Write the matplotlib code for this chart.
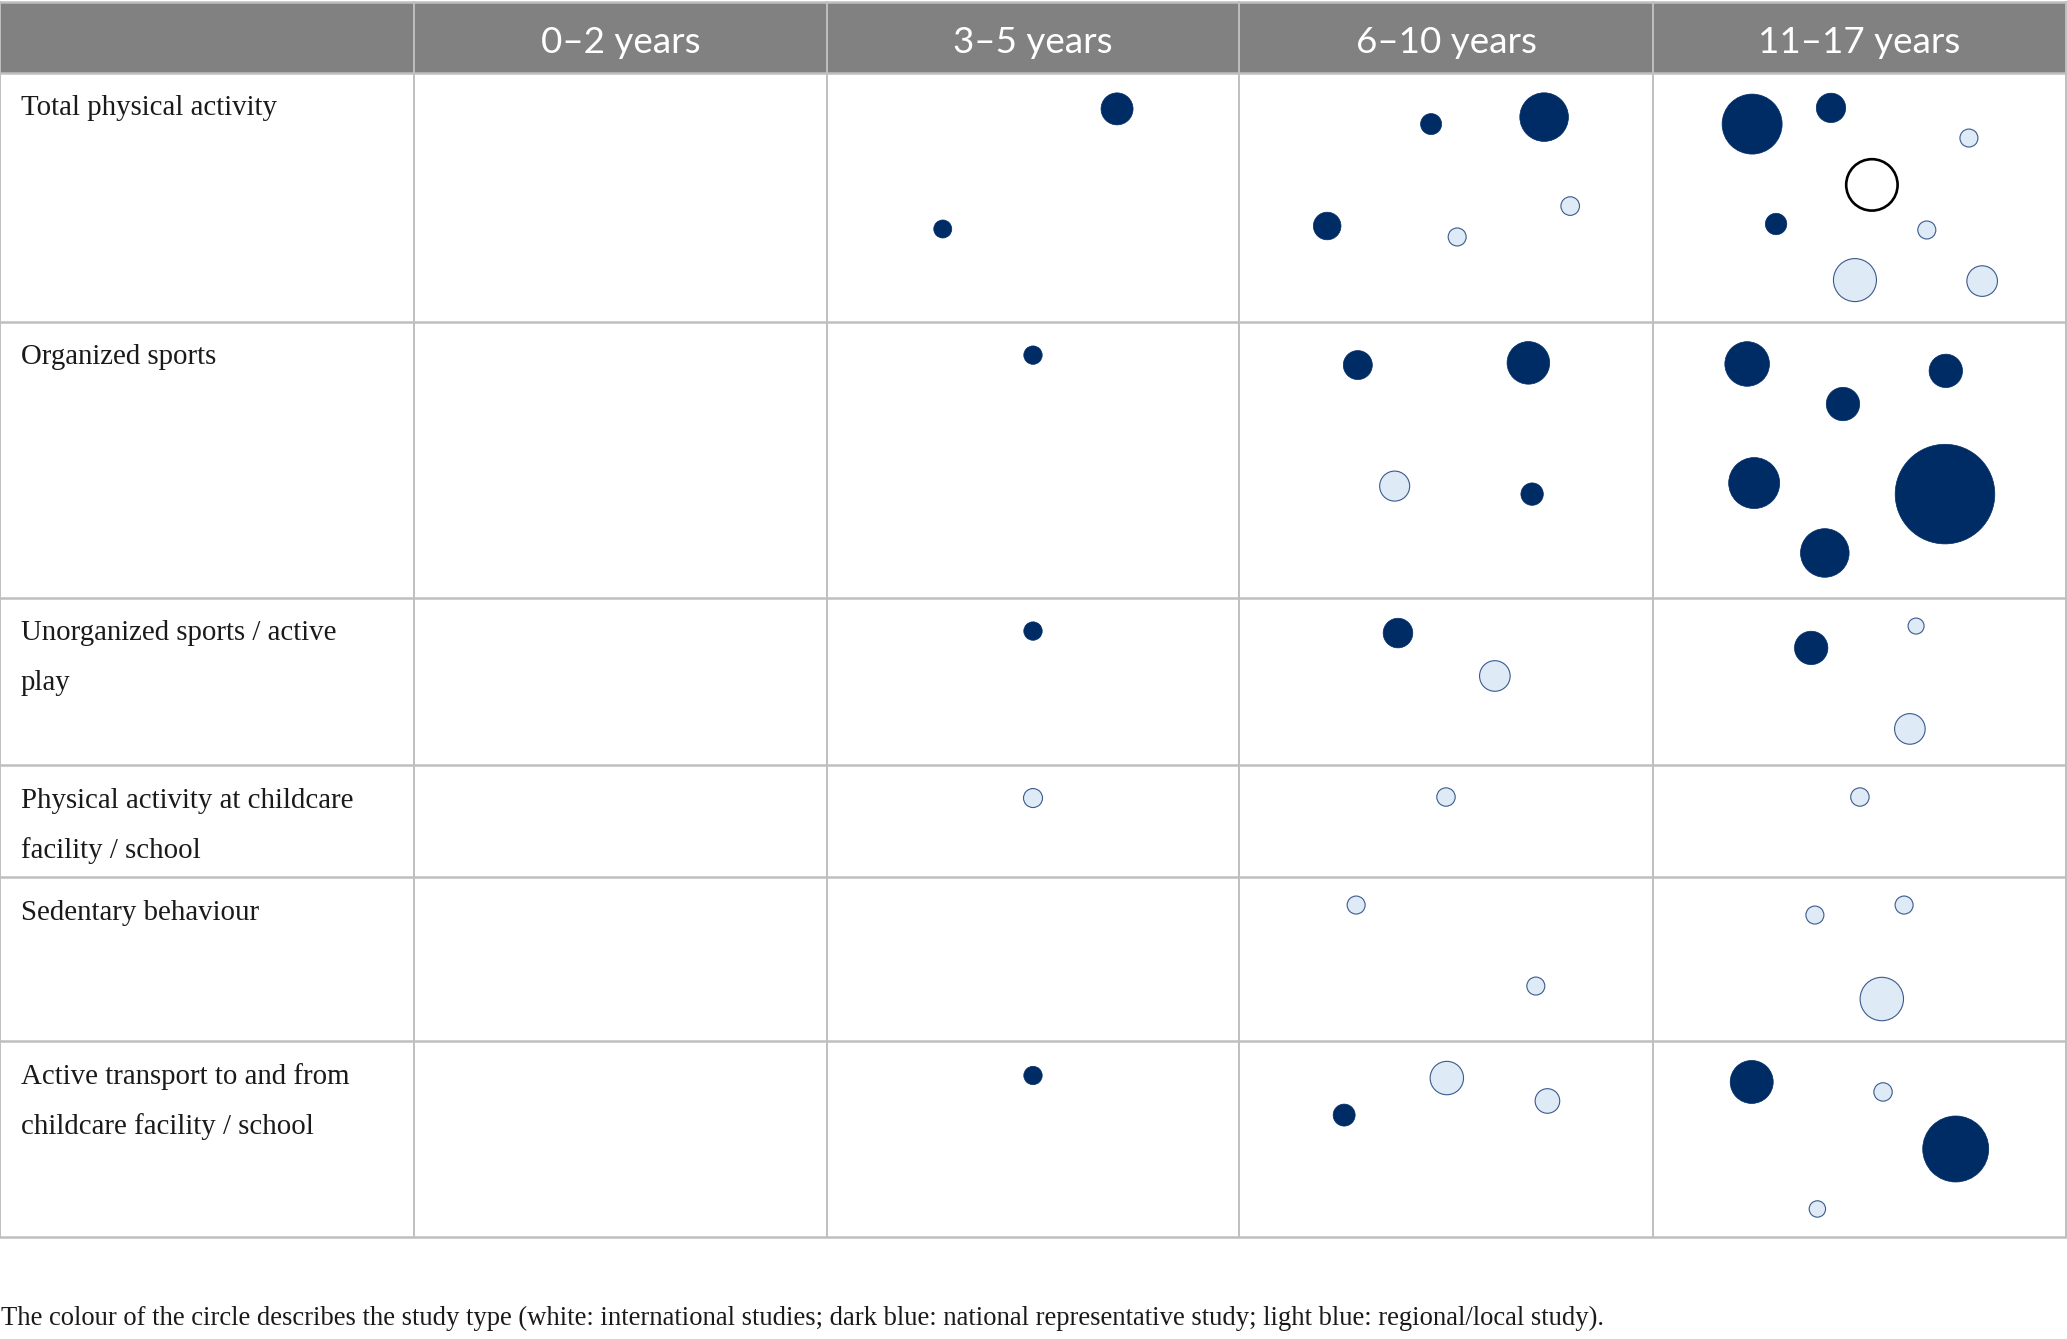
import matplotlib.pyplot as plt
from matplotlib.patches import Circle, Rectangle

# table content
age_groups = ["0\u20132 years", "3\u20135 years", "6\u201310 years", "11\u201317 years"]
row_labels = [
    ["Total physical activity"],
    ["Organized sports"],
    ["Unorganized sports / active", "play"],
    ["Physical activity at childcare", "facility / school"],
    ["Sedentary behaviour"],
    ["Active transport to and from", "childcare facility / school"],
]
caption = ("The colour of the circle describes the study type (white: international studies; "
           "dark blue: national representative study; light blue: regional/local study).")

# bubbles: row, age column (0..3), position inside cell (fraction), radius (px), study type
# N = national representative, L = regional/local, W = international
bubble_row = [0, 0,
              0, 0, 0, 0, 0,
              0, 0, 0, 0, 0, 0, 0, 0,
              1,
              1, 1, 1, 1,
              1, 1, 1, 1, 1, 1,
              2,
              2, 2,
              2, 2, 2,
              3, 3, 3,
              4, 4,
              4, 4, 4,
              5,
              5, 5, 5,
              5, 5, 5, 5]
bubble_col = [1, 1,
              2, 2, 2, 2, 2,
              3, 3, 3, 3, 3, 3, 3, 3,
              1,
              2, 2, 2, 2,
              3, 3, 3, 3, 3, 3,
              1,
              2, 2,
              3, 3, 3,
              1, 2, 3,
              2, 2,
              3, 3, 3,
              1,
              2, 2, 2,
              3, 3, 3, 3]
bubble_fx = [0.704, 0.281,
             0.464, 0.737, 0.213, 0.527, 0.800,
             0.240, 0.431, 0.765, 0.530, 0.298, 0.663, 0.489, 0.797,
             0.500,
             0.287, 0.699, 0.376, 0.708,
             0.228, 0.709, 0.460, 0.245, 0.707, 0.416,
             0.500,
             0.384, 0.618,
             0.637, 0.383, 0.622,
             0.500, 0.500, 0.501,
             0.283, 0.717,
             0.392, 0.608, 0.554,
             0.500,
             0.502, 0.745, 0.254,
             0.239, 0.557, 0.733, 0.398]
bubble_fy = [0.146, 0.628,
             0.207, 0.179, 0.616, 0.660, 0.536,
             0.207, 0.142, 0.263, 0.451, 0.608, 0.632, 0.833, 0.837,
             0.121,
             0.157, 0.149, 0.595, 0.624,
             0.153, 0.178, 0.298, 0.584, 0.624, 0.837,
             0.198,
             0.210, 0.467,
             0.168, 0.299, 0.784,
             0.295, 0.286, 0.286,
             0.171, 0.665,
             0.232, 0.171, 0.744,
             0.176,
             0.189, 0.306, 0.378,
             0.209, 0.260, 0.551, 0.857]
bubble_r = [16, 9,
            10.5, 24.3, 13.8, 9, 9.3,
            30, 14.7, 9, 25.7, 10.7, 9, 21.5, 15.3,
            9.2,
            14.5, 21.3, 15, 11.2,
            22.3, 16.7, 16.7, 25.5, 49.8, 24.3,
            9.2,
            14.8, 15.3,
            8, 16.7, 15.3,
            9.5, 9.2, 9.2,
            9, 9,
            9, 9, 21.7,
            9.2,
            16.7, 12.3, 11,
            21.5, 9.2, 33, 8.2]
bubble_type = ["N", "N",
               "N", "N", "N", "L", "L",
               "N", "N", "L", "W", "N", "L", "L", "L",
               "N",
               "N", "N", "L", "N",
               "N", "N", "N", "N", "N", "N",
               "N",
               "N", "L",
               "L", "N", "L",
               "L", "L", "L",
               "L", "L",
               "L", "L", "L",
               "N",
               "L", "L", "N",
               "N", "L", "N", "L"]

# layout in pixels
W, H = 2067, 1339
col_edges = [0, 414, 827, 1239, 1653, 2066]
row_edges = [72.5, 321.7, 598, 765, 877, 1041, 1237]
header_top = 2

dark = "#002c66"
light = "#deeaf6"
grid = "#bfbfbf"
styles = {
    "N": dict(facecolor=dark, edgecolor=dark, linewidth=0.5),
    "L": dict(facecolor=light, edgecolor="#3a5a8c", linewidth=0.8),
    "W": dict(facecolor="white", edgecolor="black", linewidth=1.9),
}

fig = plt.figure(figsize=(W / 100, H / 100), dpi=100)
ax = fig.add_axes([0, 0, 1, 1])
ax.set_xlim(0, W)
ax.set_ylim(H, 0)
ax.axis("off")

# header band
ax.add_patch(Rectangle((0, header_top), col_edges[-1], row_edges[0] - header_top,
                       facecolor="#808180", edgecolor="none", zorder=0))
for i, g in enumerate(age_groups):
    xc = (col_edges[i + 1] + col_edges[i + 2]) / 2
    ax.text(xc, 53, g, color="white", fontsize=26.5, family="Lato",
            ha="center", va="baseline")

# grid lines
for x in col_edges:
    ax.plot([x, x], [header_top, row_edges[-1]], color=grid, lw=1.4, zorder=1)
for y in [header_top] + row_edges:
    ax.plot([0, col_edges[-1]], [y, y], color=grid, lw=1.8, zorder=1)

# row labels
for r, lines in enumerate(row_labels):
    for k, line in enumerate(lines):
        ax.text(21, row_edges[r] + 42.5 + 50 * k, line, fontsize=20.8,
                family="Liberation Serif", color="#1a1a1a", va="baseline", ha="left")

# bubbles
for r, c, fx, fy, rad, t in zip(bubble_row, bubble_col, bubble_fx, bubble_fy,
                                bubble_r, bubble_type):
    x0, x1 = col_edges[c + 1], col_edges[c + 2]
    y0, y1 = row_edges[r], row_edges[r + 1]
    cx = x0 + fx * (x1 - x0)
    cy = y0 + fy * (y1 - y0)
    ax.add_patch(Circle((cx, cy), rad, zorder=3, **styles[t]))

ax.text(1, 1325, caption, fontsize=19.2, family="Liberation Serif",
        color="#1a1a1a", va="baseline", ha="left")

fig.savefig("out.png", dpi=100)
